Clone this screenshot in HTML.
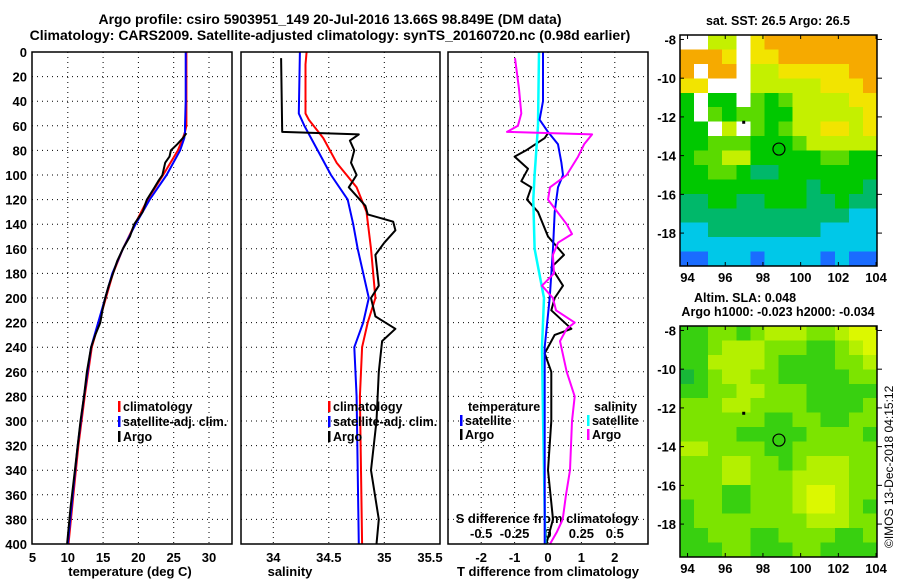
<!DOCTYPE html>
<html><head><meta charset="utf-8"><style>
html,body{margin:0;padding:0;background:#fff;}
svg{display:block;font-family:"Liberation Sans",sans-serif;font-weight:bold;}
</style></head><body>
<svg id="c" width="900" height="580" viewBox="0 0 900 580">
<rect width="900" height="580" fill="#fff"/>
<text x="330" y="24" font-size="14" text-anchor="middle">Argo profile: csiro 5903951_149 20-Jul-2016 13.66S 98.849E (DM data)</text>
<text x="330" y="40" font-size="14" text-anchor="middle">Climatology: CARS2009. Satellite-adjusted climatology: synTS_20160720.nc (0.98d earlier)</text>
<g id="g"></g>
<text transform="translate(893,548) rotate(-90)" font-size="12" font-weight="normal">©IMOS 13-Dec-2018 04:15:12</text>
</svg>
<script>
// ---- data ----
const tClimDepth=[0,20,40,60,65,70,80,100,120,140,160,180,200,240,280,320,360,400];
const tClim=[26.8,26.8,26.8,26.8,26.6,26.3,25.6,23.5,21.3,19.5,17.8,16.4,15.4,13.4,12.4,11.5,10.8,10.1];
const tSatDepth=[0,20,40,60,65,70,80,100,120,140,160,180,200,240,280,320,360,400];
const tSat=[26.7,26.7,26.7,26.6,26.6,26.5,25.9,24.0,21.6,19.6,17.8,16.3,15.3,13.3,12.3,11.4,10.7,10.0];
const tArgoDepth=[66,70,75,80,85,90,100,105,110,120,130,140,150,160,170,180,190,200,210,220,230,240,260,280,300,340,370,400];
const tArgo=[26.8,26.3,25.5,24.6,24.4,23.8,23.4,22.8,22.3,21.2,20.6,19.4,18.8,17.8,17.0,16.4,15.8,15.3,14.9,14.6,13.9,13.3,12.7,12.3,11.8,11.0,10.4,9.9];

const sClimDepth=[0,10,50,55,70,90,110,130,160,200,220,240,280,400];
const sClim=[34.30,34.29,34.29,34.32,34.45,34.57,34.75,34.84,34.88,34.92,34.85,34.80,34.78,34.80];
const sSatDepth=[0,50,60,80,100,120,140,160,200,220,240,280,400];
const sSat=[34.24,34.23,34.28,34.40,34.52,34.67,34.72,34.76,34.86,34.81,34.73,34.75,34.77];
const sArgoDepth=[5,65,67,72,80,90,100,110,125,132,138,145,155,165,190,200,215,225,235,260,300,340,380,400];
const sArgo=[34.07,34.08,34.77,34.69,34.73,34.70,34.75,34.68,34.83,34.85,35.08,35.10,35.00,34.92,34.95,34.88,34.92,35.10,34.98,34.95,34.93,34.88,34.95,34.93];

const dTSatDepth=[0,40,55,65,75,90,100,110,130,160,200,240,280,400];
const dTSat=[-0.15,-0.15,-0.25,0,0.3,0.4,0.45,0.3,0.2,0.15,0.05,-0.1,-0.1,-0.1];
const dTArgoDepth=[66,70,80,85,95,105,110,120,130,150,165,175,190,200,210,225,230,245,260,300,340,380,400];
const dTArgo=[0,-0.1,-0.66,-1.0,-0.6,-0.8,-0.5,-0.63,-0.3,0,0.48,0.1,0.45,0.2,0.1,0.7,0.2,-0.1,0.1,0.1,0,0.15,-0.05];
const dSSatDepth=[0,60,100,120,160,200,240,300,400];
const dSSat=[-0.067,-0.075,-0.1,-0.11,-0.1,-0.03,-0.045,-0.037,-0.02];
const dSArgoDepth=[5,30,50,60,65,67,75,85,100,110,120,140,148,155,165,180,190,200,210,220,225,235,260,280,300,340,360,380,390,400];
const dSArgo=[-0.247,-0.217,-0.2,-0.225,-0.307,0.33,0.27,0.225,0.14,0.015,0,0.14,0.18,0.075,0.037,0.045,-0.045,0.037,0.06,0.2,0.14,0.09,0.14,0.2,0.18,0.165,0.135,0.11,0.067,0.015];

const depthTicks=[0,20,40,60,80,100,120,140,160,180,200,220,240,260,280,300,320,340,360,380,400];
const tTicks=[5,10,15,20,25,30];
const sTicks=[34,34.5,35,35.5];
const dTTicks=[-2,-1,0,1,2];
const dSTicks=[-0.5,-0.25,0,0.25,0.5];

const sstGrid=["ww55w677777777","7776w667777777","7w77w556666677","66www555556667","3w33w434555566","3w434433555556","33w5w434556656","33444333455555","34455333334433","33443223333333","33333333323332","22332233322322","22222222222211","11222222221111","11111111111111","00111011110100"];
const slaGrid=["33443455544566","33455544433456","33555543333445","23455443333344","33445544433333","44455444433334","44444433443344","44443333344443","55444433444444","44455443455544","44455444555544","44433444566544","34433444566543","34444444455544","33444334444334","33344333443333"];
const lonTicks=[94,96,98,100,102,104];
const latTicks=[-8,-10,-12,-14,-16,-18];
const floatLon=98.849, floatLat=-13.66;

// ---- scales ----
const NS='http://www.w3.org/2000/svg';
const G=document.getElementById('g');
function el(t,a,txt){const e=document.createElementNS(NS,t);for(const k in a)e.setAttribute(k,a[k]);if(txt!==undefined)e.textContent=txt;G.appendChild(e);return e;}
const yD=d=>52+d*1.23;
const xT=v=>32.5+(v-5)*7.06;
const xS=v=>273.3+(v-34)*111;
const xDT=v=>548+v*33.4;
const xDS=v=>548+v*133.6;
const panels=[{x0:32,x1:232,name:'temperature'},{x0:241,x1:440,name:'salinity'},{x0:448,x1:648,name:'difference'}];

panels.forEach((p,i)=>{
  depthTicks.forEach(d=>{if(d>0&&d<400){const l=el('line',{x1:p.x0,x2:p.x1,y1:yD(d),y2:yD(d),stroke:'#000','stroke-width':1,'stroke-dasharray':'1,4'});
  
  }});
});
tTicks.slice(1).forEach(v=>{const l=el('line',{x1:xT(v),x2:xT(v),y1:52,y2:544,stroke:'#000','stroke-dasharray':'1,4'});

});
sTicks.slice(0,3).forEach(v=>{const l=el('line',{x1:xS(v),x2:xS(v),y1:52,y2:544,stroke:'#000','stroke-dasharray':'1,4'});

});
dTTicks.forEach(v=>{const l=el('line',{x1:xDT(v),x2:xDT(v),y1:52,y2:544,stroke:'#000','stroke-dasharray':'1,4'});

});

depthTicks.forEach(d=>{const t=el('text',{x:27,y:yD(d)+5,'font-size':13,'text-anchor':'end'},String(d));

});
tTicks.forEach(v=>{const t=el('text',{x:xT(v),y:562,'font-size':13,'text-anchor':'middle'},String(v));

});
sTicks.forEach(v=>{const t=el('text',{x:Math.min(xS(v),430),y:562,'font-size':13,'text-anchor':'middle'},String(v));

});
dTTicks.forEach(v=>{const t=el('text',{x:xDT(v),y:562,'font-size':13,'text-anchor':'middle'},String(v));

});
dSTicks.forEach(v=>{const t=el('text',{x:xDS(v),y:538,'font-size':13,'text-anchor':'middle'},String(v));

});
[['temperature (deg C)',130],['salinity',290],['T difference from climatology',548]].forEach(a=>{const t=el('text',{x:a[1],y:576,'font-size':13,'text-anchor':'middle'},a[0]);

});
{const t=el('text',{x:547,y:523,'font-size':13,'text-anchor':'middle'},'S difference from climatology');

}

function line(ds,vs,xf,col,w,name){
  const pts=ds.map((d,i)=>xf(vs[i]).toFixed(1)+','+yD(d).toFixed(1)).join(' ');
  const p=el('polyline',{points:pts,fill:'none',stroke:col,'stroke-width':w,'stroke-linejoin':'round'});
  
  
}
line(tClimDepth,tClim,xT,'#f00',2,'temp-climatology-line');
line(tSatDepth,tSat,xT,'#00f',2,'temp-satellite-line');
line(tArgoDepth,tArgo,xT,'#000',2,'temp-argo-line');
line(sClimDepth,sClim,xS,'#f00',2,'sal-climatology-line');
line(sSatDepth,sSat,xS,'#00f',2,'sal-satellite-line');
line(sArgoDepth,sArgo,xS,'#000',2,'sal-argo-line');
line(dTArgoDepth,dTArgo,xDT,'#000',2,'dt-argo-line');
line(dSSatDepth,dSSat,xDS,'#0ff',2.5,'ds-satellite-line');
line(dTSatDepth,dTSat,xDT,'#00f',2,'dt-satellite-line');
line(dSArgoDepth,dSArgo,xDS,'#f0f',2,'ds-argo-line');

panels.forEach(p=>{const r=el('rect',{x:p.x0,y:52,width:p.x1-p.x0,height:492,fill:'none',stroke:'#000','stroke-width':1.5});

});

function legend(x,y,col,txt,name){
  const m=el('rect',{x:x,y:y-10,width:2.5,height:11,fill:col});
  
  
  const t=el('text',{x:x+5,y:y,'font-size':12.5},txt);
  
  
}
legend(118,411,'#f00','climatology','legend-climatology');
legend(118,426,'#00f','satellite-adj. clim.','legend-satellite-adj');
legend(118,441,'#000','Argo','legend-argo');
legend(328,411,'#f00','climatology','legend-sal-climatology');
legend(328,426,'#00f','satellite-adj. clim.','legend-sal-satellite-adj');
legend(328,441,'#000','Argo','legend-sal-argo');
{const t=el('text',{x:468,y:411,'font-size':12.5},'temperature');}
{const t=el('text',{x:594,y:411,'font-size':12.5},'salinity');}
legend(460,425,'#00f','satellite','legend-dt-satellite');
legend(460,439,'#000','Argo','legend-dt-argo');
legend(587,425,'#0ff','satellite','legend-ds-satellite');
legend(587,439,'#f0f','Argo','legend-ds-argo');

// ---- maps ----
const sstCols={'0':'#1a6cff','1':'#00c8e8','2':'#00b86a','3':'#00c800','4':'#5ada00','5':'#c4f000','6':'#f2e400','7':'#f6aa00','w':'#ffffff'};
const slaCols={'2':'#18b838','3':'#38d010','4':'#7ce400','5':'#b4f000','6':'#dcf800'};
const lonMin=93.6,lonMax=104.05,latTop=-7.77,latBot=-19.7;
function drawMap(grid,cols,y0,name){
  const x0=680,x1=877,y1=y0+231;
  const xL=lon=>x0+(lon-lonMin)/(lonMax-lonMin)*(x1-x0);
  const yL=lat=>y0+(latTop-lat)/(latTop-latBot)*(y1-y0);
  const nr=grid.length,nc=grid[0].length,cw=(x1-x0)/nc,ch=(y1-y0)/nr;
  grid.forEach((row,r)=>{[...row].forEach((c,k)=>{
    const e=el('rect',{x:x0+k*cw,y:y0+r*ch,width:cw+0.5,height:ch+0.5,fill:cols[c],'shape-rendering':'crispEdges'});
    
    
  });});
  const f=el('rect',{x:x0,y:y0,width:x1-x0,height:y1-y0,fill:'none',stroke:'#000','stroke-width':1.5});
  
  
  lonTicks.forEach(v=>{
    el('line',{x1:xL(v),x2:xL(v),y1:y1,y2:y1-4,stroke:'#000'});
    el('line',{x1:xL(v),x2:xL(v),y1:y0,y2:y0+4,stroke:'#000'});
    const t=el('text',{x:xL(v),y:y1+16,'font-size':13,'text-anchor':'middle'},String(v));
    
    
  });
  latTicks.forEach(v=>{
    el('line',{x1:x1,x2:x1+5,y1:yL(v),y2:yL(v),stroke:'#000'});
    el('line',{x1:x0,x2:x0+4,y1:yL(v),y2:yL(v),stroke:'#000'});
    const t=el('text',{x:676,y:yL(v)+5,'font-size':13,'text-anchor':'end'},String(v));
    
    
  });
  const c=el('circle',{cx:xL(floatLon),cy:yL(floatLat),r:6,fill:'none',stroke:'#000','stroke-width':1.2});
  
  
  el('rect',{x:xL(96.9),y:yL(-12.2),width:3,height:3,fill:'#000'});
}
drawMap(sstGrid,sstCols,35,'sst-map');
drawMap(slaGrid,slaCols,326,'sla-map');
{const t=el('text',{x:778,y:25,'font-size':12.5,'text-anchor':'middle'},'sat. SST: 26.5 Argo: 26.5');}
{const t=el('text',{x:745,y:302,'font-size':12.5,'text-anchor':'middle'},'Altim. SLA: 0.048');}
{const t=el('text',{x:778,y:316,'font-size':12.5,'text-anchor':'middle'},'Argo h1000: -0.023 h2000: -0.034');}
</script>
</body></html>
